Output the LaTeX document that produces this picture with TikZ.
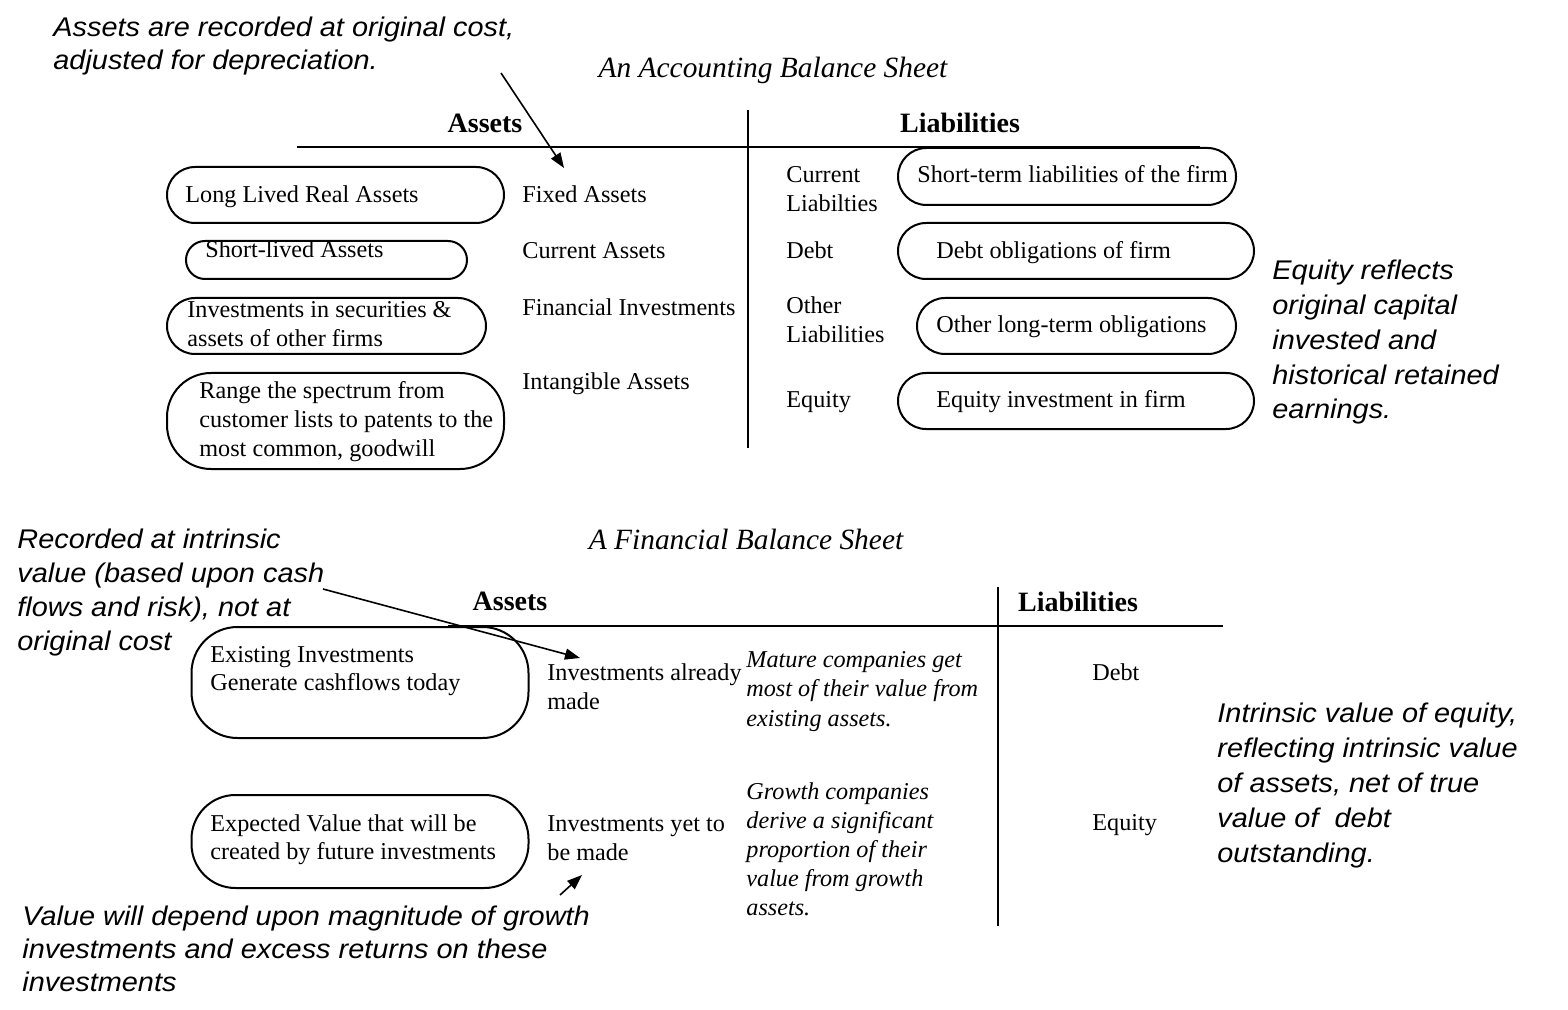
\documentclass[tikz,border=0pt]{standalone}
\usepackage{fontspec}
\setmainfont{Liberation Serif}
\newfontfamily\notefont{Liberation Sans}[FakeStretch=1.07]
\usetikzlibrary{arrows.meta}
\tikzset{
  txt/.style={font=\fontsize{12.1}{14.5}\selectfont, inner sep=0pt, anchor=base west, align=left},
  itxt/.style={txt, font=\itshape\fontsize{12.1}{14.75}\selectfont},
  note/.style={font=\notefont\itshape\fontsize{13.5}{17}\selectfont, inner sep=0pt, anchor=base west, align=left},
  head/.style={font=\bfseries\fontsize{14}{16}\selectfont, inner sep=0pt, anchor=base},
  ttl/.style={font=\itshape\fontsize{14.7}{16}\selectfont, inner sep=0pt, anchor=base},
  ov/.style={draw, line width=1pt, inner sep=0pt},
  tline/.style={line width=1.3pt},
  arr/.style={line width=0.8pt, -{Triangle[length=7.5pt,width=5.5pt]}}
}
\begin{document}
\begin{tikzpicture}[x=0.5pt,y=-0.5pt]
\useasboundingbox (0,0) rectangle (1568,1010);

% ---------- Accounting balance sheet ----------
% (multi-line nodes: base = baseline of the last line)
\node[note, font=\notefont\itshape\fontsize{13.5}{16.5}\selectfont] (nA) at (53,70) {Assets are recorded at original cost,\\adjusted for depreciation.};
\node[ttl] (t1) at (773,78) {An Accounting Balance Sheet};
\node[head] (hA1) at (485,133) {Assets};
\node[head] (hL1) at (960,133) {Liabilities};

\coordinate (h1l) at (297,147);
\coordinate (h1r) at (1200,147);
\coordinate (v1t) at (748,110);
\coordinate (v1b) at (748,448);
\draw[tline] (h1l) -- (h1r);
\draw[tline] (v1t) -- (v1b);

% left ovals
\node[ov, minimum width={337*0.5pt}, minimum height={56*0.5pt}, rounded corners=14pt] (o1) at (335.5,195) {};
\node[ov, minimum width={281*0.5pt}, minimum height={38*0.5pt}, rounded corners=9.5pt] (o2) at (326.5,260) {};
\node[ov, minimum width={319*0.5pt}, minimum height={56*0.5pt}, rounded corners=14pt] (o3) at (326.5,326) {};
\node[ov, minimum width={337*0.5pt}, minimum height={96*0.5pt}, rounded corners=22pt] (o4) at (335.5,421) {};

\node[txt] (o1t) at (185,203) {Long Lived Real Assets};
\node[txt] (o2t) at (205,258) {Short-lived Assets};
\node[txt] (o3t) at (187,347) {Investments in securities \&\\assets of other firms};
\node[txt] (o4t) at (199,457) {Range the spectrum from\\customer lists to patents to the\\most common, goodwill};

% asset categories
\node[txt] (c1) at (522,203) {Fixed Assets};
\node[txt] (c2) at (522,259) {Current Assets};
\node[txt] (c3) at (522,316) {Financial Investments};
\node[txt] (c4) at (522,390) {Intangible Assets};

% liability categories
\node[txt] (l1) at (786,212) {Current\\Liabilties};
\node[txt] (l2) at (786,259) {Debt};
\node[txt] (l3) at (786,343) {Other\\Liabilities};
\node[txt] (l4) at (786,408) {Equity};

% right ovals
\node[ov, minimum width={338*0.5pt}, minimum height={57*0.5pt}, rounded corners=14.25pt] (r1) at (1067,176.5) {};
\node[ov, minimum width={356*0.5pt}, minimum height={56*0.5pt}, rounded corners=14pt] (r2) at (1076,251) {};
\node[ov, minimum width={319*0.5pt}, minimum height={56*0.5pt}, rounded corners=14pt] (r3) at (1076.5,326) {};
\node[ov, minimum width={356*0.5pt}, minimum height={56*0.5pt}, rounded corners=14pt] (r4) at (1076,401) {};

\node[txt] (r1t) at (917,183) {Short-term liabilities of the firm};
\node[txt] (r2t) at (936,259) {Debt obligations of firm};
\node[txt] (r3t) at (936,333) {Other long-term obligations};
\node[txt] (r4t) at (936,408) {Equity investment in firm};

\node[note, font=\notefont\itshape\fontsize{13.5}{17.4}\selectfont] (nE) at (1272,419) {Equity reflects\\original capital\\invested and\\historical retained\\earnings.};

\coordinate (a1s) at (501,73);
\coordinate (a1e) at (564,168);
\draw[arr] (a1s) -- (a1e);

% ---------- Financial balance sheet ----------
\node[ttl] (t2) at (746,549) {A Financial Balance Sheet};
\node[head] (hA2) at (510,610) {Assets};
\node[head] (hL2) at (1078,611) {Liabilities};

\coordinate (h2l) at (448,626);
\coordinate (h2r) at (1223,626);
\coordinate (v2t) at (998,587);
\coordinate (v2b) at (998,926);
\draw[tline] (h2l) -- (h2r);
\draw[tline] (v2t) -- (v2b);

\node[ov, minimum width={337*0.5pt}, minimum height={111*0.5pt}, rounded corners=23pt] (b1) at (360,682.5) {};
\node[ov, minimum width={337*0.5pt}, minimum height={93*0.5pt}, rounded corners=22pt] (b2) at (360,841.5) {};

\node[txt, font=\fontsize{12.1}{14.25}\selectfont] (b1t) at (210,690.5) {Existing Investments\\Generate cashflows today};
\node[txt, font=\fontsize{12.1}{14.25}\selectfont] (b2t) at (210,859.5) {Expected Value that will be\\created by future investments};

\node[txt] (m1) at (547,709) {Investments already\\made};
\node[txt] (m2) at (547,860) {Investments yet to\\be made};

\node[itxt] (i1) at (746,726) {Mature companies get\\most of their value from\\existing assets.};
\node[itxt, font=\itshape\fontsize{12.1}{14.4}\selectfont] (i2) at (746,915) {Growth companies\\derive a significant\\proportion of their\\value from growth\\assets.};

\node[txt] (d2) at (1092,680) {Debt};
\node[txt] (e2) at (1092,830) {Equity};

\node[note] (nR) at (17,650) {Recorded at intrinsic\\value (based upon cash\\flows and risk), not at\\original cost};
\node[note, font=\notefont\itshape\fontsize{13.5}{16.5}\selectfont] (nV) at (22,991) {Value will depend upon magnitude of growth\\investments and excess returns on these\\investments};
\node[note, font=\notefont\itshape\fontsize{13.5}{17.4}\selectfont] (nI) at (1217,862) {Intrinsic value of equity,\\reflecting intrinsic value\\of assets, net of true\\value of \ debt\\outstanding.};

\coordinate (a2s) at (323,589);
\coordinate (a2e) at (580,658);
\draw[arr] (a2s) -- (a2e);
\coordinate (a3s) at (560,895);
\coordinate (a3e) at (582,875);
\draw[arr] (a3s) -- (a3e);
\end{tikzpicture}
\end{document}
